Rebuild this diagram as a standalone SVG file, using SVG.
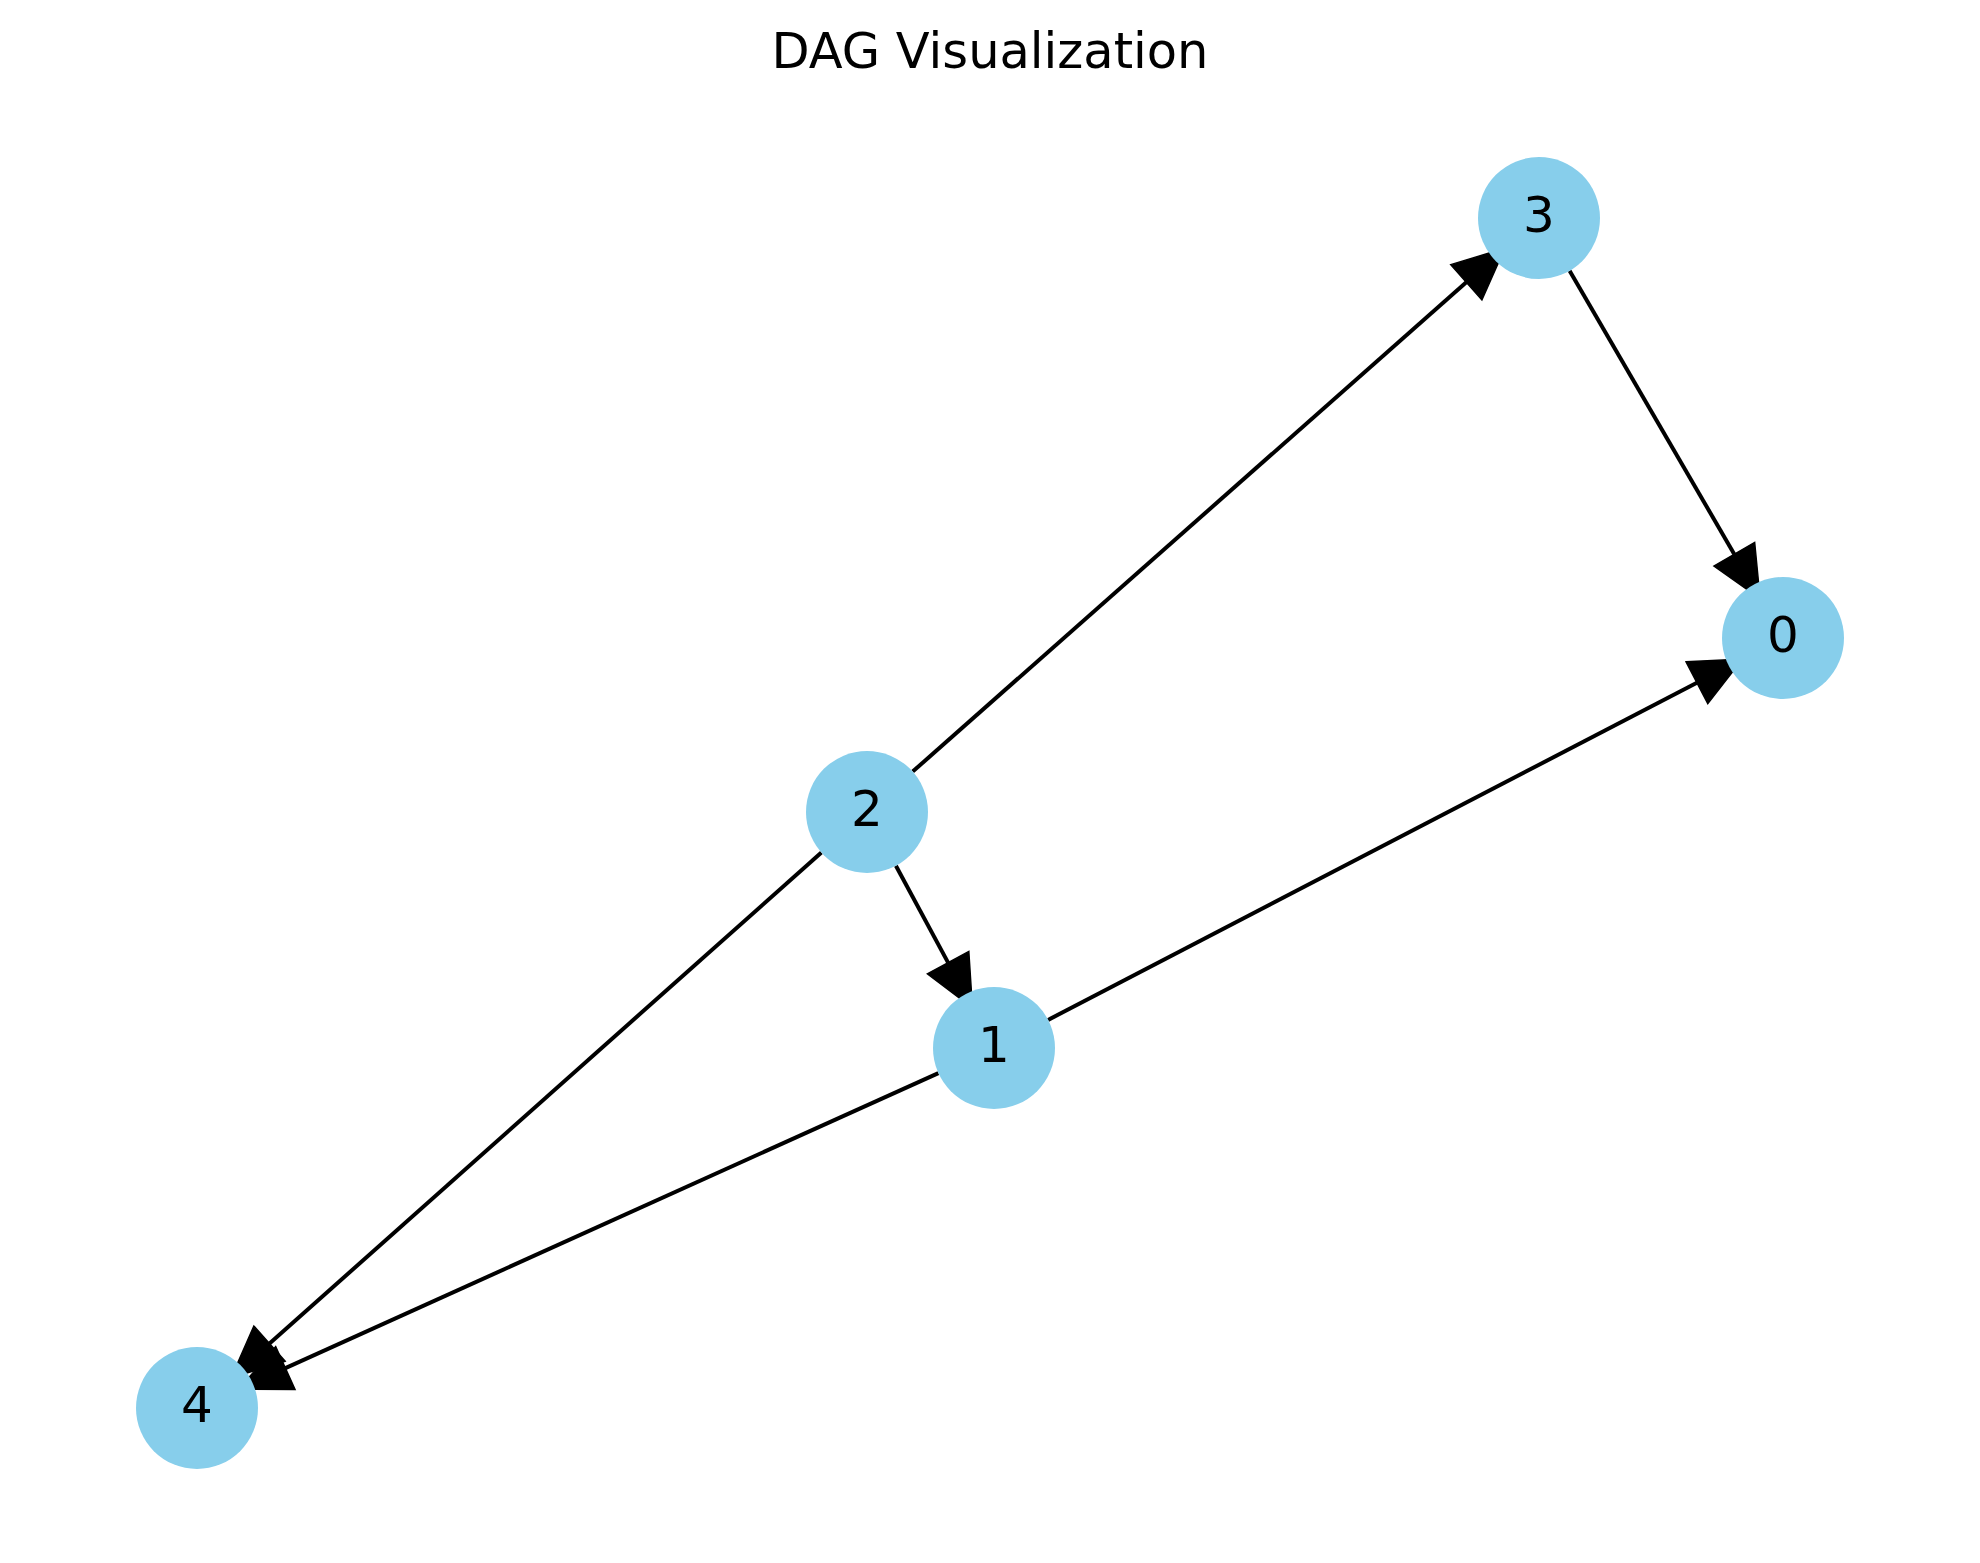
<svg xmlns="http://www.w3.org/2000/svg" width="1980" height="1563" viewBox="0 0 1980 1563">
<style>
.edge{stroke:#000;stroke-width:4;fill:none;marker-end:url(#ah)}
.node circle{fill:#87CEEB}
.node text{font-family:"DejaVu Sans",sans-serif;font-size:50px;fill:#000;text-anchor:middle}
.title{font-family:"DejaVu Sans",sans-serif;font-size:49.5px;fill:#000;text-anchor:middle}
</style>
<defs>
<marker id="ah" markerUnits="userSpaceOnUse" orient="auto" refX="0" refY="0" markerWidth="60" markerHeight="60" viewBox="-2 -20 42 40" overflow="visible">
<path d="M0,-16.5 L36,0 L0,16.5 Z" fill="#000" stroke="#000" stroke-width="1" stroke-linejoin="miter"/>
</marker>
</defs>
<rect width="1980" height="1563" fill="#fff"/>
<text class="title" x="990" y="68">DAG Visualization</text>
<g id="edges">
<path class="edge" d="M912.7,771.6 L1466.3,282.3"/>
<path class="edge" d="M1569.6,270.7 L1734.3,554.2"/>
<path class="edge" d="M895.9,865.7 L948.1,962.6"/>
<path class="edge" d="M1048.1,1019.9 L1696.9,682.7"/>
<path class="edge" d="M821.4,852.5 L269.5,1343.6"/>
<path class="edge" d="M938.4,1073.1 L285.4,1368.1"/>
</g>
<g id="node0" class="node"><circle cx="1783" cy="638" r="61"/><text x="1783" y="652">0</text></g>
<g id="node1" class="node"><circle cx="994" cy="1048" r="61"/><text x="994" y="1062">1</text></g>
<g id="node2" class="node"><circle cx="867" cy="812" r="61"/><text x="867" y="826">2</text></g>
<g id="node3" class="node"><circle cx="1539" cy="218" r="61"/><text x="1539" y="232">3</text></g>
<g id="node4" class="node"><circle cx="197" cy="1408" r="61"/><text x="197" y="1422">4</text></g>
</svg>
